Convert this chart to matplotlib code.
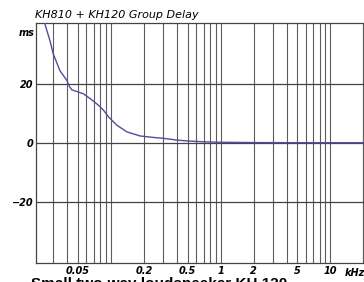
import matplotlib
matplotlib.use("Agg")
import matplotlib.pyplot as plt
from matplotlib.ticker import FixedLocator, NullFormatter

# group delay curve (kHz, ms)
freq_khz = [0.019, 0.0235, 0.0251, 0.0279, 0.0299, 0.0344, 0.0397, 0.0420, 0.0440,
            0.0489, 0.0563, 0.0647, 0.0772, 0.0858, 0.0953, 0.1134, 0.140, 0.185,
            0.245, 0.3, 0.4, 0.5, 0.7, 1.0, 2.0, 5.0, 10.0, 22.0]
delay_ms = [52, 44, 40.6, 34.9, 30.4, 24.7, 21.4, 19.3, 18.2,
            17.6, 16.8, 15.2, 12.9, 11.2, 8.9, 6.1, 3.8, 2.4,
            1.9, 1.6, 1.0, 0.7, 0.4, 0.25, 0.15, 0.1, 0.1, 0.1]

x_ticks = [0.05, 0.2, 0.5, 1, 2, 5, 10]
x_labels = ["0.05", "0.2", "0.5", "1", "2", "5", "10"]
y_ticks = [20, 0, -20]
y_labels = ["20", "0", "\u221220"]
title = "KH810 + KH120 Group Delay"
caption = "Small two-way loudspeaker KH 120"

grid_x = [m * 10.0 ** e for e in range(-2, 2) for m in range(1, 10)] + [20]

fig = plt.figure(figsize=(3.64, 2.82), dpi=100)
ax = fig.add_axes([36 / 364, 19 / 282, 1 - 36 / 364 + 0.01, 240 / 282])
ax.set_xscale("log")
ax.set_xlim(0.0208, 21.9)
ax.set_ylim(-41, 41)

for f in grid_x:
    if 0.0208 < f < 21.9:
        ax.axvline(f, color="#5c5c5c", lw=0.8, zorder=1)
for y in y_ticks:
    ax.axhline(y, color="#444444", lw=0.9, zorder=1)

ax.plot(freq_khz, delay_ms, color="#4e4ea0", lw=1.0, zorder=3)

ax.xaxis.set_major_locator(FixedLocator(x_ticks))
ax.xaxis.set_minor_formatter(NullFormatter())
ax.set_xticks(x_ticks, x_labels)
ax.set_yticks(y_ticks, y_labels)
ax.tick_params(length=0, labelsize=7, pad=2)
ax.tick_params(axis="x", which="minor", length=0)
for lab in ax.get_xticklabels() + ax.get_yticklabels():
    lab.set_fontstyle("italic")
    lab.set_fontweight("bold")

for s in ["left", "top", "bottom"]:
    ax.spines[s].set_color("#444444")
    ax.spines[s].set_linewidth(0.9)
ax.spines["right"].set_visible(False)

ax.text(-0.005, 0.96, "ms", transform=ax.transAxes, ha="right", va="center",
        fontsize=7, style="italic", fontweight="bold")
ax.text(0.96, -0.02, "kHz", transform=ax.transAxes, ha="center", va="top",
        fontsize=7, style="italic", fontweight="bold")
fig.text(35 / 364, 1 - 15 / 282, title, ha="left", va="center",
         fontsize=8, style="italic")
fig.text(31 / 364, -2 / 282, caption, ha="left", va="center",
         fontsize=11, fontweight="bold", family="Liberation Sans")

fig.savefig("out.png", dpi=100)
